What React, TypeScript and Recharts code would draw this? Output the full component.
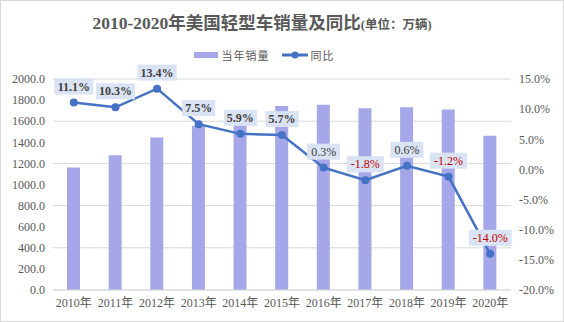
import React from "react";
import {
  ComposedChart,
  Bar,
  Line,
  XAxis,
  YAxis,
  CartesianGrid,
  LabelList,
} from "recharts";

const years = [
  "2010年",
  "2011年",
  "2012年",
  "2013年",
  "2014年",
  "2015年",
  "2016年",
  "2017年",
  "2018年",
  "2019年",
  "2020年",
];
// 当年销量（万辆）
const sales = [1160, 1277, 1446, 1557, 1650, 1745, 1755, 1723, 1733, 1712, 1463];
// 同比（%）
const yoy = [11.1, 10.3, 13.4, 7.5, 5.9, 5.7, 0.3, -1.8, 0.6, -1.2, -14.0];

const salesTicks = [0, 200, 400, 600, 800, 1000, 1200, 1400, 1600, 1800, 2000];
const yoyTicks = [-20, -15, -10, -5, 0, 5, 10, 15];

const serif = '"Times New Roman", "Liberation Serif", "Noto Sans CJK SC", serif';
const gray = "#595959";
const barColor = "#a5a7e8";
const lineColor = "#4472c4";

const chartData = years.map((year, i) => ({
  year,
  sales: sales[i],
  yoy: yoy[i],
}));

// rough Times width per char at 1em
const charW = (c: string) => {
  if (c === ".") return 0.25;
  if (c === "%") return 0.833;
  if (c === "-") return 0.333;
  return 0.5;
};

const YoyLabel = (props: any) => {
  const { x, y, value } = props;
  if (x == null || y == null || value == null) return null;
  const text = `${Number(value).toFixed(1)}%`;
  const fontSize = 12;
  let w = 0;
  for (const c of text) w += charW(c);
  const boxW = w * fontSize + 8;
  const boxH = 16;
  const cy = y - 16;
  const neg = value < 0;
  const bold = value > 1;
  return (
    <g>
      <rect
        x={x - boxW / 2}
        y={cy - boxH / 2}
        width={boxW}
        height={boxH}
        fill="#dae3f3"
      />
      <text
        x={x}
        y={cy}
        textAnchor="middle"
        dominantBaseline="central"
        fontFamily={serif}
        fontSize={fontSize}
        fontWeight={bold ? "bold" : "normal"}
        fill={neg ? "#c00000" : "#404040"}
      >
        {text}
      </text>
    </g>
  );
};

const App = () => {
  return (
    <div
      style={{
        position: "relative",
        width: 564,
        height: 322,
        background: "#fff",
        fontFamily: serif,
      }}
    >
      <style>{"body{margin:0}"}</style>
      <div
        style={{
          position: "absolute",
          top: 11,
          left: -20,
          width: 564,
          textAlign: "center",
          color: gray,
          fontWeight: "bold",
          fontSize: 17.5,
          lineHeight: "24px",
          whiteSpace: "nowrap",
        }}
      >
        2010-2020年美国轻型车销量及同比
        <span style={{ fontSize: 12.5 }}>(单位：万辆)</span>
      </div>
      <div
        style={{
          position: "absolute",
          top: 47,
          left: -18,
          width: 564,
          display: "flex",
          justifyContent: "center",
          alignItems: "center",
          fontSize: 11,
          color: gray,
          fontFamily: '"Noto Sans CJK SC", sans-serif',
          height: 16,
        }}
      >
        <span
          style={{
            display: "inline-block",
            width: 24,
            height: 6,
            background: barColor,
            marginRight: 4,
          }}
        />
        <span style={{ marginRight: 12, letterSpacing: 1 }}>当年销量</span>
        <svg width={26} height={10} style={{ marginRight: 3 }}>
          <line x1={0} y1={5} x2={26} y2={5} stroke={lineColor} strokeWidth={3} />
          <circle cx={13} cy={5} r={3.5} fill={lineColor} />
        </svg>
        <span style={{ letterSpacing: 1 }}>同比</span>
      </div>
      <ComposedChart
        width={564}
        height={322}
        data={chartData}
        margin={{ top: 79, right: 0, bottom: 2, left: 0 }}
        barCategoryGap={0}
      >
        <CartesianGrid vertical={false} stroke="#d9d9d9" yAxisId="left" />
        <XAxis
          dataKey="year"
          height={30}
          tickLine={false}
          axisLine={{ stroke: "#d9d9d9" }}
          tick={{ fill: gray, fontSize: 12, fontFamily: serif }}
          interval={0}
        />
        <YAxis
          yAxisId="left"
          width={53}
          domain={[0, 2000]}
          ticks={salesTicks}
          tickFormatter={(v: number) => v.toFixed(1)}
          tickLine={false}
          axisLine={false}
          tick={{ fill: gray, fontSize: 12, fontFamily: serif }}
        />
        <YAxis
          yAxisId="right"
          orientation="right"
          width={53}
          domain={[-20, 15]}
          ticks={yoyTicks}
          tickFormatter={(v: number) => `${v.toFixed(1)}%`}
          tickLine={false}
          axisLine={false}
          tick={{ fill: gray, fontSize: 12, fontFamily: serif }}
        />
        <Bar
          yAxisId="left"
          dataKey="sales"
          fill={barColor}
          barSize={13}
          isAnimationActive={false}
        />
        <Line
          yAxisId="right"
          dataKey="yoy"
          stroke={lineColor}
          strokeWidth={2.5}
          dot={{ r: 4, fill: lineColor, stroke: lineColor, strokeWidth: 0 }}
          isAnimationActive={false}
        >
          <LabelList dataKey="yoy" content={YoyLabel} />
        </Line>
      </ComposedChart>
      <div
        style={{
          position: "absolute",
          inset: 0,
          border: "1px solid #d9d9d9",
          pointerEvents: "none",
        }}
      />
    </div>
  );
};

export default App;
